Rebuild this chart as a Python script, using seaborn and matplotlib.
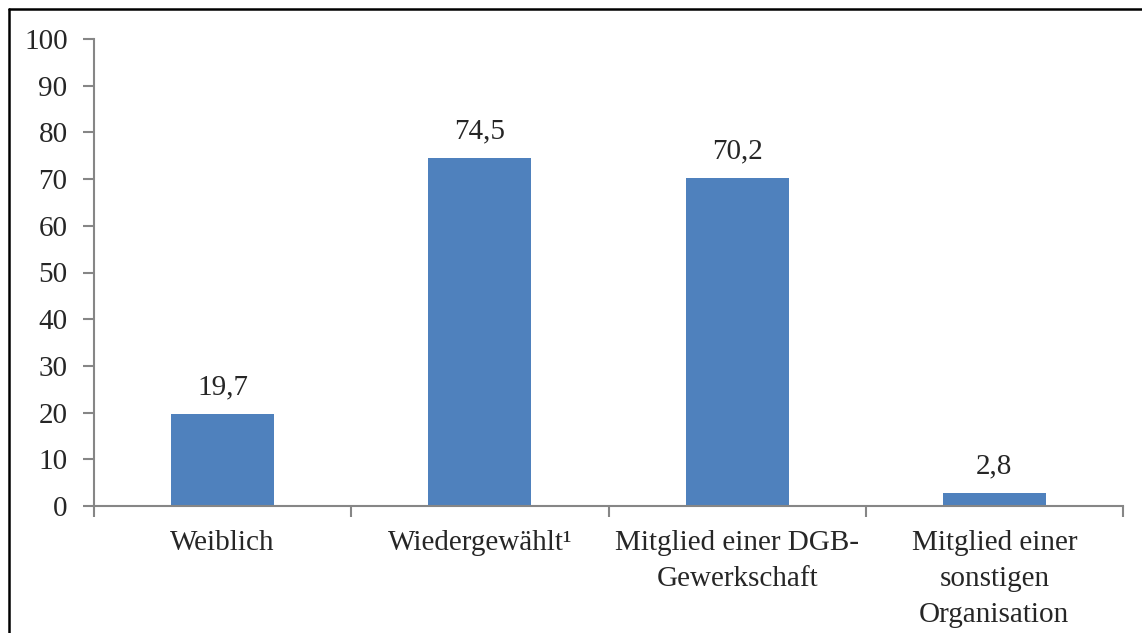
import matplotlib
matplotlib.use("Agg")
import matplotlib.pyplot as plt
import seaborn as sns
import pandas as pd
from matplotlib.lines import Line2D

categories = ["Weiblich", "Wiedergewählt¹", "Mitglied einer DGB-\nGewerkschaft",
              "Mitglied einer\nsonstigen\nOrganisation"]
values = [19.7, 74.5, 70.2, 2.8]
value_labels = ["19,7", "74,5", "70,2", "2,8"]
yticks = [0, 10, 20, 30, 40, 50, 60, 70, 80, 90, 100]

sns.set_theme(style="white")
plt.rcParams['font.family'] = ['Liberation Serif', 'DejaVu Serif']

FS = 21

df = pd.DataFrame({"cat": categories, "val": values})

fig = plt.figure(figsize=(11.42, 6.33), dpi=100)
ax = fig.add_axes([94/1142, 1-506/633, (1123-94)/1142, (506-39)/633])

sns.barplot(data=df, x="cat", y="val", color="#4F81BD", saturation=1,
            width=0.4, ax=ax)
for p in ax.patches:
    p.set_edgecolor("none")

ax.set_xlim(-0.5, 3.5)
ax.set_ylim(0, 100)
ax.set_yticks(yticks)
ax.set_yticklabels([str(t) for t in yticks], fontsize=FS)
ax.set_xlabel("")
ax.set_ylabel("")

ax.set_xticks([-0.5, 0.5, 1.5, 2.5, 3.5])
ax.set_xticklabels([])
ax.set_xticks([0, 1, 2, 3], minor=True)
ax.set_xticklabels(categories, minor=True, fontsize=FS, linespacing=1.52)
ax.tick_params(axis="x", which="minor", length=0, pad=17)
ax.tick_params(axis="x", which="major", length=8, width=1.5, color="#868686",
               direction="out", bottom=True)
ax.tick_params(axis="y", length=8, width=1.5, color="#868686", direction="out",
               left=True, pad=11)
for lbl in ax.get_xticklabels(minor=True):
    lbl.set_verticalalignment("top")
    lbl.set_horizontalalignment("center")
    lbl.set_multialignment("center")

for s in ["top", "right"]:
    ax.spines[s].set_visible(False)
for s in ["left", "bottom"]:
    ax.spines[s].set_color("#868686")
    ax.spines[s].set_linewidth(1.5)

for i, (v, t) in enumerate(zip(values, value_labels)):
    ax.annotate(t, (i, v), xytext=(0, 14), textcoords="offset points",
                ha="center", va="baseline", fontsize=FS)

fig.add_artist(Line2D([8.5/1142, 8.5/1142], [0, 1-9/633], transform=fig.transFigure,
                      color="black", linewidth=1.8))
fig.add_artist(Line2D([8.5/1142, 1], [1-9/633, 1-9/633], transform=fig.transFigure,
                      color="black", linewidth=1.8))

fig.savefig("out.png", dpi=100)
